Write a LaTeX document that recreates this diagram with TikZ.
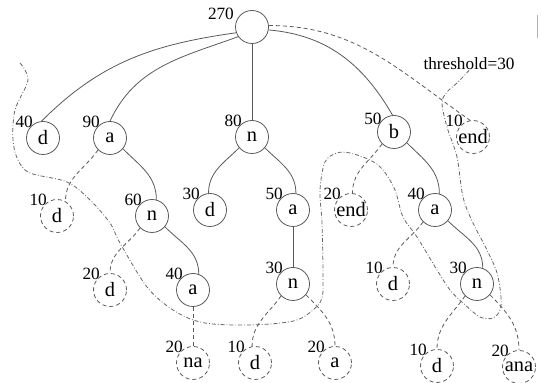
\documentclass[tikz,border=0pt]{standalone}
\usepackage{fontspec}
\setmainfont{Liberation Serif}

\begin{document}
\begin{tikzpicture}[x=0.5pt,y=0.5pt,line width=0.4pt,
    every node/.style={inner sep=0pt},
    ch/.style={circle,draw=black!65,minimum size=16.5pt,font=\fontsize{10.2}{11}\selectfont},
    cut/.style={ch,dash pattern=on 2pt off 1.5pt},
    num/.style={font=\fontsize{8.6}{9}\selectfont,label distance=-1.5pt},
    tree/.style={draw=black!65},
    pruned/.style={draw=black!65,dash pattern=on 2pt off 1.5pt},
    thresh/.style={draw=black!60,dash pattern=on 2pt off 1pt on 0.4pt off 1pt}]
  \useasboundingbox (0,0) rectangle (541,-383);

  % root and first level
  \node[ch,label={[num,label distance=1pt]160:270}] (root) at (252,-27) {};
  \node[ch,label={[num]135:40}] (d1) at (43,-138) {d};
  \node[ch,label={[num]135:90}] (a1) at (110,-138) {a};
  \node[ch,label={[num]135:80}] (n1) at (252,-137) {n};
  \node[ch,label={[num]150:50}] (b1) at (394,-132) {b};
  \node[cut,label={[num]135:10}] (end1) at (473,-137) {end};

  % second level
  \node[cut,label={[num]135:10}] (d2) at (57,-216) {d};
  \node[ch,label={[num]135:60}] (n2) at (152,-216) {n};
  \node[ch,label={[num]135:30}] (d3) at (210,-210) {d};
  \node[ch,label={[num]135:50}] (a2) at (293,-210) {a};
  \node[cut,label={[num]135:20}] (end2) at (351,-210) {end};
  \node[ch,label={[num]135:40}] (a3) at (435,-210) {a};

  % third level
  \node[cut,label={[num]135:20}] (d4) at (110,-290) {d};
  \node[ch,label={[num]135:40}] (a4) at (193,-290) {a};
  \node[ch,label={[num]135:30}] (n3) at (293,-284) {n};
  \node[cut,label={[num]135:10}] (d5) at (393,-284) {d};
  \node[ch,label={[num]135:30}] (n4) at (477,-284) {n};

  % leaves
  \node[cut,label={[num]135:20}] (na) at (193,-363) {na};
  \node[cut,label={[num]135:10}] (d6) at (255,-363) {d};
  \node[cut,label={[num]135:20}] (a5) at (335,-363) {a};
  \node[cut,label={[num]135:10}] (d7) at (437,-366) {d};
  \node[cut,label={[num]135:20}] (ana) at (519,-367) {ana};

  \node[font=\fontsize{8.6}{9}\selectfont] (th) at (469,-64) {threshold=30};

  % edges out of the root
  \draw[tree] (root.200) to[out=188,in=45] (d1.95);
  \draw[tree] (root.215) to[out=200,in=65] (a1.90);
  \draw[tree] (root) -- (n1);
  \draw[tree] (root.-10) to[out=-5,in=120] (b1.95);
  \draw[pruned] (root.5) to[out=0,in=145] (end1.100);

  % second level edges
  \draw[pruned] (a1.225) to[out=235,in=90] (d2.60);
  \draw[tree] (a1.-40) to[out=-45,in=90] (n2.75);
  \draw[tree] (n1.220) to[out=225,in=90] (d3.95);
  \draw[tree] (n1.-40) to[out=-45,in=90] (a2.80);
  \draw[pruned] (b1.225) to[out=235,in=90] (end2.85);
  \draw[tree] (b1.-40) to[out=-45,in=90] (a3.75);

  % third level edges
  \draw[pruned] (n2.225) to[out=235,in=90] (d4.90);
  \draw[tree] (n2.-40) to[out=-45,in=90] (a4.70);
  \draw[tree] (a2) -- (n3);
  \draw[pruned] (a3.225) to[out=235,in=90] (d5.90);
  \draw[tree] (a3.-40) to[out=-45,in=90] (n4.70);

  % edges to the leaves
  \draw[pruned] (a4) -- (na);
  \draw[pruned] (n3.225) to[out=235,in=90] (d6.100);
  \draw[pruned] (n3.-40) to[out=-45,in=90] (a5.90);
  \draw[pruned] (n4.225) to[out=235,in=90] (d7.90);
  \draw[pruned] (n4.-40) to[out=-45,in=90] (ana.90);

  % the threshold cut
  \draw[thresh] plot[smooth,tension=0.55] coordinates {
    (20,-63) (28,-80) (15,-110) (13,-140) (18,-160) (30,-173) (67,-182)
    (90,-200) (110,-223) (120,-243) (147,-287) (173,-310) (200,-322)
    (233,-325) (270,-324) (297,-320) (313,-310) (322,-298) (323,-273)
    (322,-223) (320,-190) (325,-162) (337,-153) (350,-153) (370,-160)
    (383,-170) (395,-190) (403,-217) (417,-237) (437,-270) (450,-290)
    (463,-303) (480,-317) (493,-318) (500,-310) (501,-297) (497,-273)
    (487,-250) (473,-223) (463,-197) (457,-157) (447,-127) (442,-103)
    (447,-92) (457,-83) (th.south)};

  \draw[black!30] (537,-15) -- (537,-38);
\end{tikzpicture}
\end{document}
